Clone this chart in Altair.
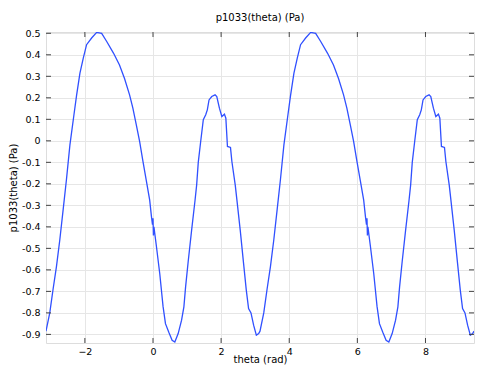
import math
import altair as alt
import pandas as pd

# values (theta in rad, p1033 in Pa)
theta = [
    -3.1416, -3.031, -2.934, -2.836, -2.736, -2.638, -2.541, -2.440, -2.322, -2.245,
    -2.145, -2.047, -1.950, -1.802, -1.654, -1.507, -1.359, -1.161, -0.984, -0.836,
    -0.688, -0.591, -0.490, -0.393, -0.295, -0.195, -0.097, -0.047, -0.015, 0.0,
    0.012, 0.027, 0.100, 0.198, 0.295, 0.366, 0.464, 0.561, 0.641, 0.739,
    0.839, 0.907, 0.957, 1.034, 1.134, 1.232, 1.282, 1.329, 1.400, 1.477,
    1.548, 1.595, 1.645, 1.725, 1.823, 1.873, 1.950, 2.021, 2.097, 2.139,
    2.186, 2.275, 2.316, 2.414, 2.464, 2.561, 2.659, 2.739, 2.806, 2.877,
    2.954, 3.034, 3.102,
    3.1416, 3.252, 3.349, 3.447, 3.547, 3.645, 3.742, 3.843, 3.961, 4.038,
    4.138, 4.236, 4.333, 4.481, 4.629, 4.776, 4.924, 5.122, 5.299, 5.447,
    5.595, 5.692, 5.793, 5.890, 5.988, 6.088, 6.186, 6.236, 6.268, 6.283,
    6.295, 6.310, 6.383, 6.481, 6.578, 6.649, 6.747, 6.844, 6.924, 7.022,
    7.122, 7.190, 7.240, 7.317, 7.417, 7.515, 7.565, 7.612, 7.683, 7.760,
    7.831, 7.878, 7.928, 8.008, 8.106, 8.156, 8.233, 8.304, 8.380, 8.422,
    8.469, 8.558, 8.599, 8.697, 8.747, 8.844, 8.942, 9.022, 9.089, 9.160,
    9.237, 9.317, 9.385, 9.4248,
]
p1033 = [
    -0.885, -0.80, -0.69, -0.586, -0.46, -0.32, -0.18, -0.02, 0.12, 0.21,
    0.315, 0.385, 0.447, 0.478, 0.504, 0.50, 0.462, 0.408, 0.353, 0.29,
    0.214, 0.152, 0.074, -0.003, -0.096, -0.186, -0.276, -0.35, -0.39, -0.36,
    -0.44, -0.40, -0.49, -0.617, -0.77, -0.85, -0.89, -0.927, -0.935, -0.896,
    -0.834, -0.772, -0.679, -0.56, -0.415, -0.28, -0.205, -0.10, -0.003, 0.098,
    0.121, 0.144, 0.19, 0.206, 0.214, 0.206, 0.152, 0.113, 0.124, 0.105,
    -0.026, -0.031, -0.096, -0.205, -0.276, -0.415, -0.57, -0.694, -0.78, -0.80,
    -0.857, -0.904, -0.896,
    -0.885, -0.80, -0.69, -0.586, -0.46, -0.32, -0.18, -0.02, 0.12, 0.21,
    0.315, 0.385, 0.447, 0.478, 0.504, 0.50, 0.462, 0.408, 0.353, 0.29,
    0.214, 0.152, 0.074, -0.003, -0.096, -0.186, -0.276, -0.35, -0.39, -0.36,
    -0.44, -0.40, -0.49, -0.617, -0.77, -0.85, -0.89, -0.927, -0.935, -0.896,
    -0.834, -0.772, -0.679, -0.56, -0.415, -0.28, -0.205, -0.10, -0.003, 0.098,
    0.121, 0.144, 0.19, 0.206, 0.214, 0.206, 0.152, 0.113, 0.124, 0.105,
    -0.026, -0.031, -0.096, -0.205, -0.276, -0.415, -0.57, -0.694, -0.78, -0.80,
    -0.857, -0.904, -0.896, -0.885,
]
x_ticks = [-2, 0, 2, 4, 6, 8]
y_ticks = [-0.9, -0.8, -0.7, -0.6, -0.5, -0.4, -0.3, -0.2, -0.1, 0.0,
           0.1, 0.2, 0.3, 0.4, 0.5]

W, H = 428, 311
FONT = "DejaVu Sans"

df = pd.DataFrame({"theta": theta, "p": p1033})
xt = pd.DataFrame({"v": x_ticks})
yt = pd.DataFrame({"v": y_ticks})

xs = alt.Scale(domain=[-math.pi, 3 * math.pi], nice=False, zero=False)
ys = alt.Scale(domain=[-0.94, 0.506], nice=False, zero=False)

x_axis = alt.Axis(values=x_ticks, title="theta (rad)", ticks=False, domain=False,
                  grid=True, gridColor="#e6e6e6", labelPadding=3, titlePadding=-1,
                  labelFont=FONT, titleFont=FONT, labelFontSize=9.5, titleFontSize=10,
                  titleFontWeight="normal", labelColor="#000", titleColor="#000")
y_axis = alt.Axis(values=y_ticks, title="p1033(theta) (Pa)", ticks=False, domain=False,
                  grid=True, gridColor="#e6e6e6", labelPadding=6, titlePadding=3,
                  labelExpr="replace(format(datum.value, '.1~f'), '\u2212', '-')",
                  labelFont=FONT, titleFont=FONT, labelFontSize=9.5, titleFontSize=10,
                  titleFontWeight="normal", labelColor="#000", titleColor="#000")

line = alt.Chart(df).mark_line(color="#3050ff", strokeWidth=1.3, clip=True).encode(
    x=alt.X("theta:Q", scale=xs, axis=x_axis, title="theta (rad)"),
    y=alt.Y("p:Q", scale=ys, axis=y_axis, title="p1033(theta) (Pa)"),
)

tick_color = "#444444"
bottom = alt.Chart(xt).mark_rule(color=tick_color).encode(
    x=alt.X("v:Q", scale=xs, axis=x_axis, title="theta (rad)"),
    y=alt.value(H), y2=alt.value(H - 5))
top = alt.Chart(xt).mark_rule(color=tick_color).encode(
    x=alt.X("v:Q", scale=xs, axis=x_axis, title="theta (rad)"),
    y=alt.value(0), y2=alt.value(5))
left = alt.Chart(yt).mark_rule(color=tick_color).encode(
    y=alt.Y("v:Q", scale=ys, axis=y_axis, title="p1033(theta) (Pa)"),
    x=alt.value(0), x2=alt.value(5))
right = alt.Chart(yt).mark_rule(color=tick_color).encode(
    y=alt.Y("v:Q", scale=ys, axis=y_axis, title="p1033(theta) (Pa)"),
    x=alt.value(W), x2=alt.value(W - 5))

chart = alt.layer(line, bottom, top, left, right).properties(
    width=W, height=H,
    title=alt.Title("p1033(theta) (Pa)", font=FONT, fontSize=10, fontWeight="normal",
                    color="#000", offset=5, anchor="middle"),
    autosize=alt.AutoSizeParams(type="none"),
    padding={"left": 46, "top": 32, "right": 5, "bottom": 23},
).configure_view(stroke="#444444", strokeWidth=1.2).configure(background="white")

chart.save("out.html", embed_options={"renderer": "svg", "actions": False})
